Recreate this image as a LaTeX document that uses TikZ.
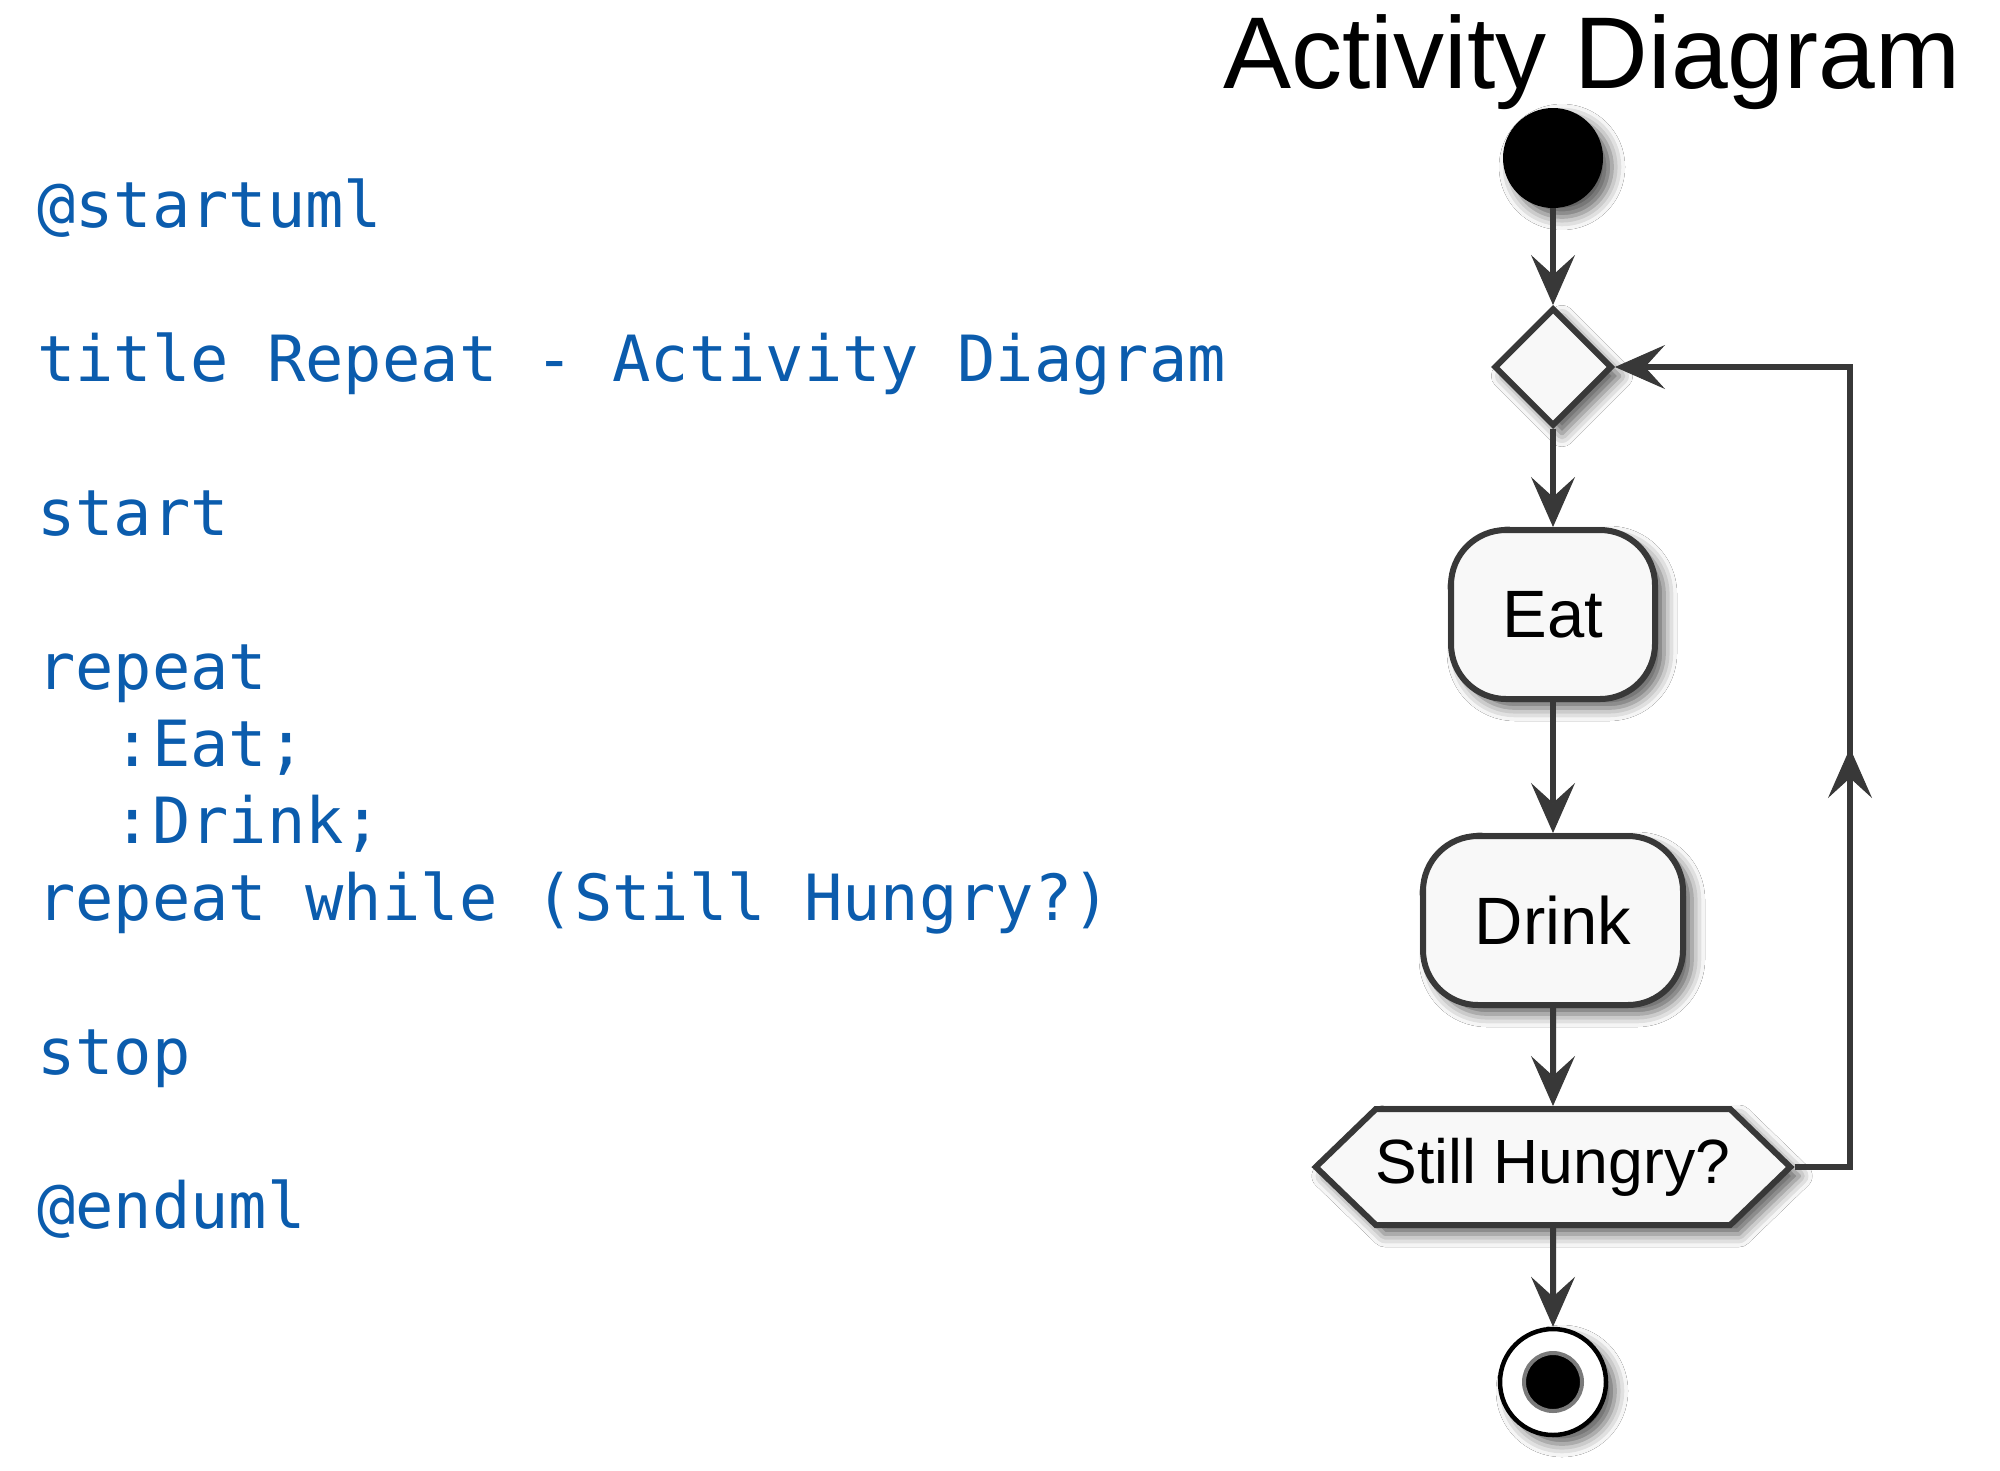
\documentclass[tikz,border=0pt]{standalone}
\usepackage{fontspec}
\usetikzlibrary{arrows.meta,shapes.geometric,shapes.symbols,shadows.blur}
\newfontfamily\hvfont{Liberation Sans}
\newfontfamily\codefont{DejaVu Sans Mono}
\definecolor{codeblue}{HTML}{0B5CAD}
\definecolor{lineclr}{HTML}{383838}
\definecolor{boxfill}{HTML}{F8F8F8}
\definecolor{ringgray}{HTML}{7A7A7A}
\tikzset{
  codeline/.style={anchor=base west, inner sep=0pt, text=codeblue,
    font=\codefont\fontsize{63.7}{70}\selectfont},
  shd/.style={blur shadow={shadow xshift=9pt, shadow yshift=-9pt,
    shadow blur radius=13pt, shadow opacity=65}},
  actbox/.style={rectangle, rounded corners=55pt, draw=lineclr, fill=boxfill,
    line width=6pt, inner sep=0pt, shd,
    font=\hvfont\fontsize{67}{72}\selectfont},
  conn/.style={draw=lineclr, line width=6pt,
    -{Stealth[length=50pt,width=44pt,inset=20pt,line width=1pt]}},
  plainconn/.style={draw=lineclr, line width=6pt},
}
\begin{document}
\begin{tikzpicture}[x=1pt,y=-1pt]
\fill[white] (0,0) rectangle (2000,1470);
\useasboundingbox (0,0) rectangle (2000,1470);

% code listing
\node[codeline] (c0) at (37,227) {@startuml};
\node[codeline] (c2) at (37,381) {title Repeat - Activity Diagram};
\node[codeline] (c4) at (37,535) {start};
\node[codeline] (c6) at (37,689) {repeat};
\node[codeline] (c7) at (37,766) {\phantom{xx}:Eat;};
\node[codeline] (c8) at (37,843) {\phantom{xx}:Drink;};
\node[codeline] (c9) at (37,920) {repeat while (Still Hungry?)};
\node[codeline] (c11) at (37,1074) {stop};
\node[codeline] (c13) at (37,1228) {@enduml};

% title
\node[anchor=base, inner sep=0pt, font=\hvfont\fontsize{102}{110}\selectfont] (title) at (1592,88) {Activity Diagram};

% diagram nodes
\node[circle, fill=black, minimum size=100pt, inner sep=0pt, shd] (start) at (1553,158) {};
\node[diamond, draw=lineclr, fill=boxfill, line width=6pt, minimum width=118pt,
      minimum height=118pt, inner sep=0pt, shd] (dia) at (1553,367) {};
\node[actbox, minimum width=204pt, minimum height=169pt] (eat) at (1553,614.5) {Eat};
\node[actbox, minimum width=260pt, minimum height=169pt] (drink) at (1553,920.5) {Drink};
\node[signal, signal to=east and west, signal pointer angle=88, draw=lineclr, fill=boxfill,
      line width=6pt, minimum width=474pt, minimum height=116pt, inner sep=0pt, shd,
      font=\hvfont\fontsize{62.5}{66}\selectfont] (hex) at (1553,1167) {Still Hungry?};
\node[circle, draw=black, fill=white, line width=4.5pt, minimum size=106pt, inner sep=0pt, shd] (stop) at (1553,1382) {};
\node[circle, draw=ringgray, fill=black, line width=4pt, minimum size=58pt, inner sep=0pt] (stopdot) at (stop) {};

% loop coordinates
\coordinate (lb) at (1850,1167);
\coordinate (lm) at (1850,748);
\coordinate (lt) at (1850,367);

% connectors
\draw[conn] (start) -- (dia);
\draw[conn] (dia) -- (eat);
\draw[conn] (eat) -- (drink);
\draw[conn] (drink) -- (hex);
\draw[conn] (hex) -- (stop);
\draw[plainconn] (hex.east) -- (lb) -- (lm);
\draw[conn] (lb) -- (lm);
\draw[conn] (lm) -- (lt) -- (dia.east);
\end{tikzpicture}
\end{document}
